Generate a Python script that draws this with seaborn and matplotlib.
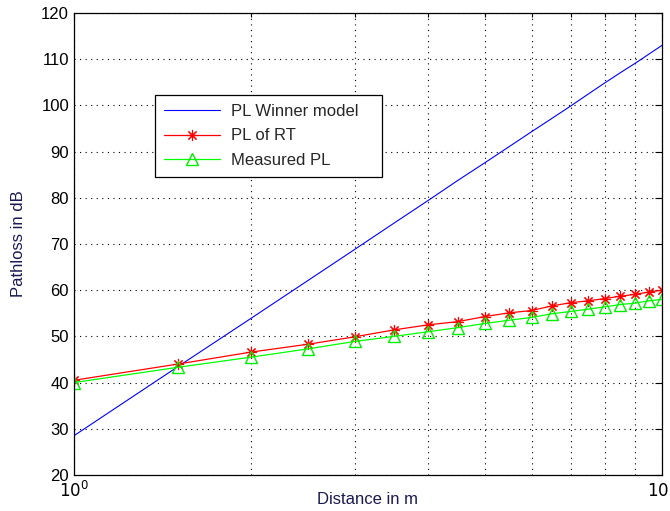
import numpy as np
import pandas as pd
import matplotlib
matplotlib.use("Agg")
import matplotlib.pyplot as plt
from matplotlib.ticker import NullFormatter, FixedLocator
import seaborn as sns

distance = [1, 1.5, 2, 2.5, 3, 3.5, 4, 4.5, 5, 5.5, 6, 6.5, 7, 7.5, 8, 8.5, 9, 9.5, 10]
pl_winner = [28.5, 43.4, 53.9, 62.1, 68.8, 74.5, 79.4, 83.8, 87.6, 91.1, 94.3, 97.2, 99.9, 102.5, 104.9, 107.1, 109.1, 111.1, 113.0]
pl_rt = [40.5, 44.0, 46.6, 48.3, 49.9, 51.4, 52.5, 53.2, 54.3, 55.1, 55.6, 56.6, 57.3, 57.7, 58.2, 58.7, 59.1, 59.6, 60.0]
pl_measured = [40.0, 43.3, 45.5, 47.3, 48.9, 50.0, 51.0, 51.9, 52.8, 53.5, 54.1, 54.9, 55.4, 55.9, 56.4, 56.9, 57.2, 57.7, 58.0]
labels = ["PL Winner model", "PL of RT", "Measured PL"]

sns.set_style("white")
plt.rcParams['font.family'] = ['Liberation Sans', 'DejaVu Sans']

df = pd.DataFrame({"d": distance, "w": pl_winner, "rt": pl_rt, "m": pl_measured})

fig = plt.figure(figsize=(6.7, 5.11), dpi=100)
ax = fig.add_axes([0.1104, 0.0705, 0.8776, 0.904])

sns.lineplot(data=df, x="d", y="w", ax=ax, color="#0000ff", lw=0.8, label=labels[0])
sns.lineplot(data=df, x="d", y="rt", ax=ax, color="#ff0000", lw=0.9, marker=(8, 2, 0),
             markersize=8, markeredgecolor="#ff0000", markerfacecolor="#ff0000",
             markeredgewidth=0.8, label=labels[1])
sns.lineplot(data=df, x="d", y="m", ax=ax, color="#00ff00", lw=0.9, marker="^",
             markersize=9, markeredgecolor="#00ee00", markerfacecolor="none",
             markeredgewidth=1.0, label=labels[2])

ax.set_xscale("log")
ax.set_xlim(1, 10)
ax.set_ylim(20, 120)
ax.set_yticks(range(20, 121, 10))
ax.xaxis.set_major_locator(FixedLocator([1, 10]))
ax.xaxis.set_minor_locator(FixedLocator([2, 3, 4, 5, 6, 7, 8, 9]))
ax.xaxis.set_minor_formatter(NullFormatter())
ax.set_xticklabels([r"$10^{0}$", r"$10^{1}$"])

ax.grid(True, which="major", axis="both", linestyle=(0, (1, 4)), color="black", lw=0.8)
ax.grid(True, which="minor", axis="x", linestyle=(0, (1, 4)), color="black", lw=0.8)

ax.tick_params(axis="both", which="both", direction="in", top=True, right=True,
               labelsize=12, colors="black")
ax.tick_params(which="major", length=5, width=0.8)
ax.tick_params(which="minor", length=3, width=0.8)
for s in ax.spines.values():
    s.set_color("black")
    s.set_linewidth(0.9)

ax.set_xlabel("Distance in m", fontsize=12, color="#1a1a50", va="center")
ax.xaxis.set_label_coords(0.5, -0.054)
ax.set_ylabel("Pathloss in dB", fontsize=12, color="#1a1a50", va="center")
ax.yaxis.set_label_coords(-0.0935, 0.5)

leg = ax.legend(loc="upper left", bbox_to_anchor=(0.1378, 0.0, 0.386, 0.8225),
                mode="expand", fontsize=12,
                frameon=True, fancybox=False, edgecolor="black", framealpha=1,
                borderpad=0.55, handlelength=3.35, handletextpad=0.65,
                labelspacing=0.55, borderaxespad=0)
leg.get_frame().set_linewidth(0.9)

fig.savefig("out.png", dpi=100)
